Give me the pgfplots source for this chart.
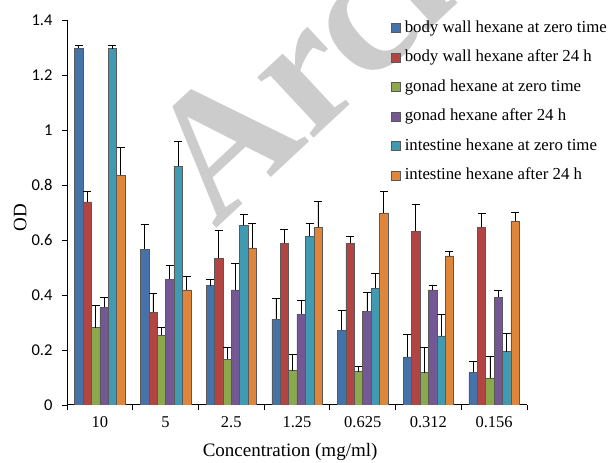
\documentclass[border=0pt]{standalone}
\usepackage{fontspec}
\setmainfont{Liberation Serif}
\newfontfamily\carlito{Carlito}
\usepackage{pgfplots}
\usepackage{pgfplotstable}
\pgfplotsset{compat=1.18}

\definecolor{cA}{RGB}{70,114,170}
\definecolor{cB}{RGB}{178,68,66}
\definecolor{cC}{RGB}{139,168,76}
\definecolor{cD}{RGB}{116,88,148}
\definecolor{cE}{RGB}{64,154,178}
\definecolor{cF}{RGB}{224,134,58}

\pgfplotstableread{
x a ea b eb c ec d ed e ee f ef
1 1.297 0.011 0.739 0.039 0.281 0.080 0.355 0.036 1.296 0.013 0.835 0.100
2 0.567 0.090 0.337 0.068 0.253 0.029 0.458 0.050 0.869 0.089 0.419 0.048
3 0.434 0.022 0.534 0.101 0.167 0.043 0.419 0.096 0.653 0.040 0.571 0.089
4 0.312 0.075 0.588 0.050 0.125 0.058 0.330 0.050 0.613 0.046 0.646 0.094
5 0.272 0.072 0.588 0.024 0.121 0.018 0.341 0.067 0.424 0.055 0.699 0.077
6 0.175 0.082 0.632 0.097 0.118 0.092 0.419 0.015 0.251 0.079 0.542 0.018
7 0.119 0.040 0.646 0.050 0.099 0.077 0.392 0.024 0.194 0.068 0.669 0.032
}\data

\begin{document}
\begin{tikzpicture}[x=1pt,y=1pt]
\useasboundingbox (0,0) rectangle (608,463);
\node[rotate=43, anchor=base west, text=black!20, font=\bfseries\fontsize{180}{180}\selectfont, inner sep=0pt] at (215,233) {Archive};
\begin{axis}[
  at={(67pt,58pt)}, anchor=south west,
  scale only axis, width=460pt, height=385pt,
  xmin=0.5, xmax=7.5, ymin=0, ymax=1.4,
  axis x line*=bottom, axis y line*=left,
  axis line style={black, line width=1pt},
  tick align=outside,
  major tick length=5pt, minor tick length=5pt,
  every tick/.style={black, line width=0.8pt},
  xtick={1,...,7},
  xticklabels={10,5,2.5,1.25,0.625,0.312,0.156},
  major x tick style={draw=none},
  minor xtick={0.5,1.5,2.5,3.5,4.5,5.5,6.5,7.5},
  ytick={0,0.2,0.4,0.6,0.8,1,1.2,1.4},
  /pgf/number format/assume math mode=true,
  xticklabel style={font=\fontsize{16.5}{16.5}\selectfont, yshift=-3pt},
  yticklabel style={font=\carlito\fontsize{16.5}{16.5}\selectfont, xshift=-6pt},
  xlabel={Concentration (mg/ml)},
  ylabel={OD},
  every axis x label/.style={at={(axis description cs:0.485,-0.122)}, anchor=center,
    font=\fontsize{19}{19}\selectfont},
  every axis y label/.style={at={(axis description cs:-0.102,0.487)}, anchor=center, rotate=90,
    font=\fontsize{19}{19}\selectfont},
  ybar=0pt, bar width=8.4pt,
  legend style={draw=none, fill=none, at={(0.7045,1.003)}, anchor=north west,
    font=\fontsize{16.8}{16.8}\selectfont, inner xsep=0pt, inner ysep=0pt,
    row sep=11.5pt, nodes={inner sep=1pt, text height=12pt, text depth=4pt},
    /tikz/every odd column/.append style={column sep=3pt}},
  legend cell align=left,
  legend image code/.code={\draw[#1, line width=0.5pt] (0pt,-4.5pt) rectangle (9pt,4.5pt);},
  every axis plot/.append style={draw=black!65, line width=0.5pt},
  eb/.style={error bars/y dir=plus, error bars/y explicit,
    error bars/error bar style={black, line width=0.8pt},
    error bars/error mark options={rotate=90, mark size=4pt, line width=0.8pt, black}},
]
\addplot[fill=cA, eb] table[x=x, y=a, y error=ea] {\data};
\addplot[fill=cB, eb] table[x=x, y=b, y error=eb] {\data};
\addplot[fill=cC, eb] table[x=x, y=c, y error=ec] {\data};
\addplot[fill=cD, eb] table[x=x, y=d, y error=ed] {\data};
\addplot[fill=cE, eb] table[x=x, y=e, y error=ee] {\data};
\addplot[fill=cF, eb] table[x=x, y=f, y error=ef] {\data};
\legend{body wall hexane at zero time, body wall hexane after 24 h, gonad hexane at zero time, gonad hexane after 24 h, intestine hexane at zero time, intestine hexane after 24 h}
\end{axis}
\end{tikzpicture}
\end{document}
